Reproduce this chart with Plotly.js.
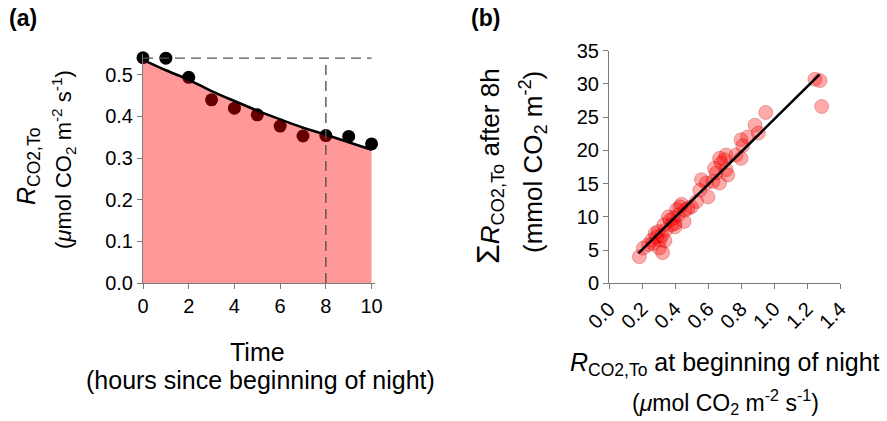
<!DOCTYPE html>
<html>
<head>
<meta charset="utf-8">
<script src="https://cdn.plot.ly/plotly-3.0.1.min.js"></script>
<style>html,body{margin:0;padding:0;background:#fff}#chart{width:887px;height:421px}</style>
</head>
<body>
<div id="chart"></div>
<script>
// Panel (a): hourly respiration rates
const timeHours = [0, 1, 2, 3, 4, 5, 6, 7, 8, 9, 10];
const respRate = [0.541, 0.540, 0.494, 0.440, 0.420, 0.404, 0.377, 0.353, 0.354, 0.352, 0.334];
// fitted curve
const fitTime = [0, 1, 2, 3, 4, 5, 6, 7, 8, 9, 10];
const fitRate = [0.536, 0.511, 0.488, 0.461, 0.437, 0.414, 0.393, 0.373, 0.356, 0.338, 0.320];
// reference value and cut-off time
const refRate = 0.54;
const cutHour = 8;
const xTicksA = [0, 2, 4, 6, 8, 10];
const yTicksA = [0.0, 0.1, 0.2, 0.3, 0.4, 0.5];

// Panel (b): initial rate vs cumulative respiration after 8h
const initRate = [0.184, 0.238, 0.259, 0.279, 0.299, 0.307, 0.305, 0.325, 0.339, 0.333,
  0.370, 0.380, 0.400, 0.420, 0.410, 0.440, 0.455, 0.480, 0.530, 0.550,
  0.560, 0.600, 0.640, 0.650, 0.670, 0.680, 0.700, 0.710, 0.720, 0.770,
  0.800, 0.800, 0.810, 0.840, 0.885, 0.905, 0.950, 1.248, 1.279, 1.289,
  0.360, 0.390, 0.430, 0.500, 0.460, 0.208, 0.289, 0.345, 0.400, 0.590,
  0.630, 0.670, 0.710, 0.268, 0.320];
const cumResp = [4.0, 5.8, 6.5, 7.5, 7.8, 6.5, 5.3, 4.6, 6.4, 8.8,
  9.5, 8.8, 9.0, 10.3, 11.1, 11.9, 9.3, 11.3, 12.3, 14.0,
  15.6, 13.0, 17.3, 16.6, 15.1, 18.1, 18.6, 19.3, 16.3, 19.3,
  18.8, 21.6, 20.7, 22.0, 23.8, 22.6, 25.7, 30.7, 30.5, 26.6,
  10.0, 9.8, 11.5, 11.5, 11.0, 5.3, 7.0, 8.0, 8.5, 15.1,
  15.3, 18.8, 17.1, 6.0, 7.2];
const regX = [0.178, 1.275];
const regY = [4.5, 31.4];
const xTicksB = [0.0, 0.2, 0.4, 0.6, 0.8, 1.0, 1.2, 1.4];
const yTicksB = [0, 5, 10, 15, 20, 25, 30, 35];

const W = 887, H = 421;
const px = x => x / W;
const py = y => 1 - y / H;
const FONT = 'Liberation Sans, Arial, sans-serif';
const AX = '#7a7a7a';

const traces = [
  {x: timeHours, y: respRate, xaxis: 'x', yaxis: 'y', type: 'scatter', mode: 'markers',
   marker: {color: '#000', size: 13}, cliponaxis: false, hoverinfo: 'skip'},
  {x: fitTime, y: fitRate, xaxis: 'x', yaxis: 'y', type: 'scatter', mode: 'lines',
   line: {width: 0, shape: 'spline'}, fill: 'tozeroy', fillcolor: 'rgba(255,0,0,0.4)', hoverinfo: 'skip'},
  {x: fitTime, y: fitRate, xaxis: 'x', yaxis: 'y', type: 'scatter', mode: 'lines',
   line: {width: 2.6, color: '#000', shape: 'spline'}, hoverinfo: 'skip'},
  {x: initRate, y: cumResp, xaxis: 'x2', yaxis: 'y2', type: 'scatter', mode: 'markers',
   marker: {color: 'rgba(255,0,0,0.33)', size: 14, line: {color: 'rgba(170,0,0,0.35)', width: 0.8}},
   cliponaxis: false, hoverinfo: 'skip'},
  {x: regX, y: regY, xaxis: 'x2', yaxis: 'y2', type: 'scatter', mode: 'lines',
   line: {width: 2.6, color: '#000'}, hoverinfo: 'skip'}
];

const axBase = {
  showgrid: false, zeroline: false, showline: true, linecolor: AX, linewidth: 1,
  ticks: 'outside', ticklen: 5, tickcolor: AX, tickwidth: 1,
  tickfont: {family: FONT, size: 20, color: '#000'}, fixedrange: true
};

const ann = (x, y, text, size, opts) => Object.assign({
  xref: 'paper', yref: 'paper', x: px(x), y: py(y), text: text, showarrow: false,
  xanchor: 'center', yanchor: 'middle',
  font: {family: FONT, size: size, color: '#000'}
}, opts || {});

const layout = {
  width: W, height: H, margin: {l: 0, r: 0, t: 0, b: 0},
  paper_bgcolor: '#fff', plot_bgcolor: 'rgba(0,0,0,0)', showlegend: false,
  xaxis: Object.assign({}, axBase, {domain: [px(143), px(375)], range: [0, 10.15],
    tickvals: xTicksA, ticktext: xTicksA.map(String), anchor: 'y'}),
  yaxis: Object.assign({}, axBase, {domain: [py(283), py(54)], range: [0, 0.55],
    tickvals: yTicksA, ticktext: yTicksA.map(v => v.toFixed(1)), anchor: 'x'}),
  xaxis2: Object.assign({}, axBase, {domain: [px(609), px(840)], range: [0, 1.4],
    tickvals: xTicksB, ticktext: xTicksB.map(v => v.toFixed(1)), tickangle: -45, anchor: 'y2'}),
  yaxis2: Object.assign({}, axBase, {domain: [py(283.3), py(50.7)], range: [0, 35],
    tickvals: yTicksB, ticktext: yTicksB.map(String), anchor: 'x2'}),
  shapes: [
    {type: 'line', xref: 'x', yref: 'y', x0: 0, x1: 10, y0: refRate, y1: refRate,
     line: {color: '#555', width: 1.4, dash: '10px,6px'}},
    {type: 'line', xref: 'x', yref: 'y', x0: cutHour, x1: cutHour, y0: 0, y1: refRate,
     line: {color: '#555', width: 1.4, dash: '10px,6px'}}
  ],
  annotations: [
    ann(7, 18, '<b>(a)</b>', 23, {xanchor: 'left'}),
    ann(469, 18, '<b>(b)</b>', 23, {xanchor: 'left'}),
    ann(28, 167, '<i>R</i><sub>CO2,To</sub>', 25, {textangle: -90}),
    ann(64, 160, '(<i>μ</i>mol CO<sub>2</sub> m<sup>-2</sup> s<sup>-1</sup>)', 22, {textangle: -90}),
    ann(257, 352, 'Time', 25),
    ann(260, 380, '(hours since beginning of night)', 25),
    ann(489, 166, '<span style="font-size:32px">Σ</span><i>R</i><sub>CO2,To</sub> after 8h', 26, {textangle: -90}),
    ann(533, 162, '(mmol CO<sub>2</sub> m<sup>-2</sup>)', 26, {textangle: -90}),
    ann(725, 364, '<i>R</i><sub>CO2,To</sub> at beginning of night', 25),
    ann(725, 402, '(<i>μ</i>mol CO<sub>2</sub> m<sup>-2</sup> s<sup>-1</sup>)', 23)
  ]
};

Plotly.newPlot('chart', traces, layout, {displayModeBar: false, staticPlot: true});
</script>
</body>
</html>
